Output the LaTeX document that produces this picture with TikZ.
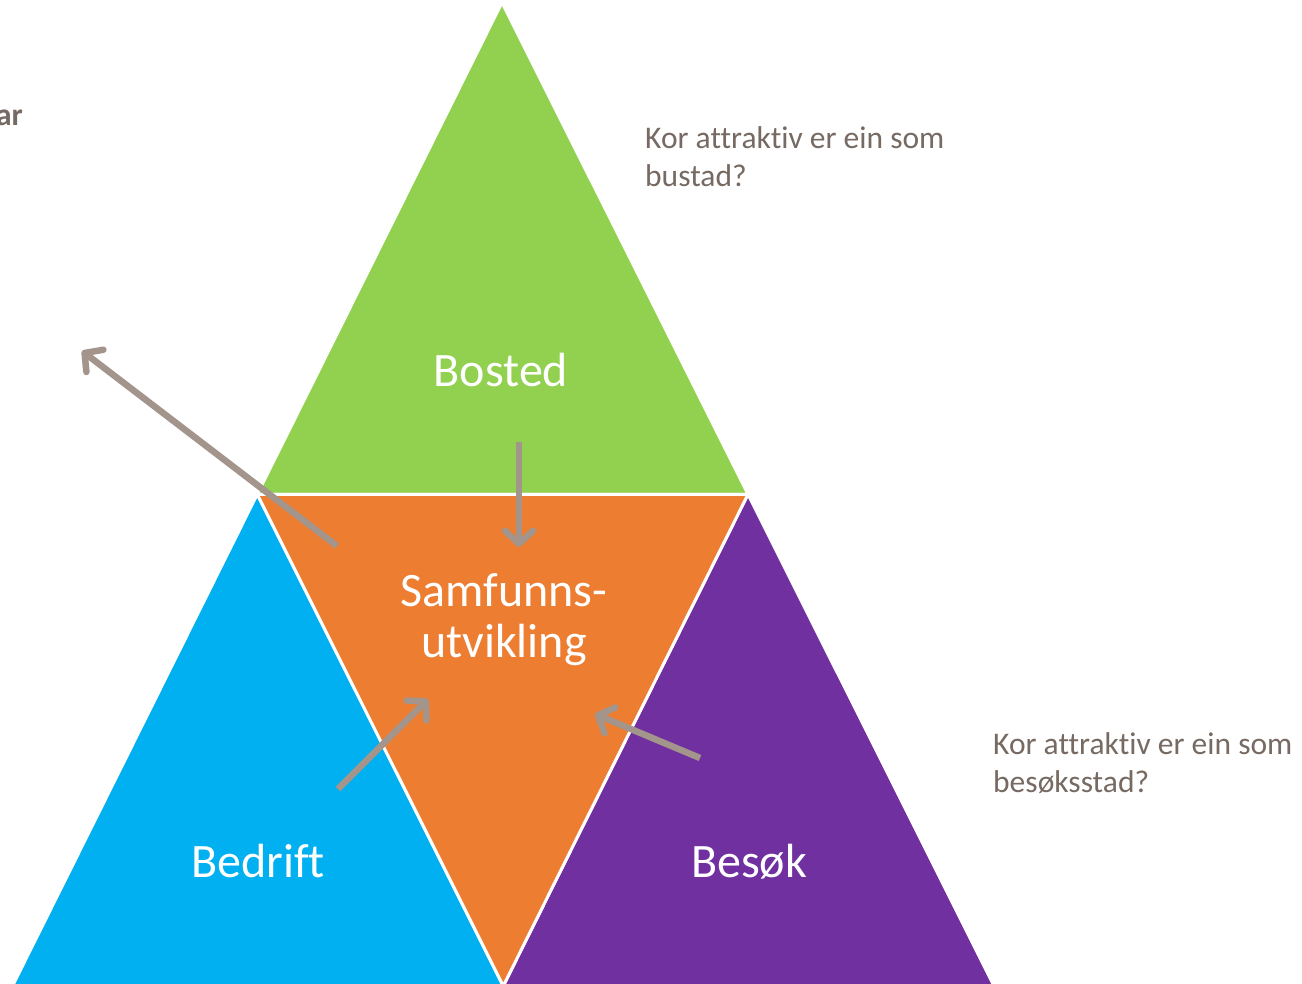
\documentclass[tikz,border=0pt]{standalone}
\usepackage{fontspec}
\setmainfont[Ligatures=NoCommon]{Carlito}
\usetikzlibrary{arrows.meta}
\definecolor{tgreen}{RGB}{146,208,80}
\definecolor{torange}{RGB}{237,125,49}
\definecolor{tblue}{RGB}{0,176,240}
\definecolor{tpurple}{RGB}{112,48,160}
\definecolor{txtgray}{RGB}{118,106,98}
\definecolor{arrgray}{RGB}{163,149,140}
\begin{document}
\begin{tikzpicture}[x=1pt,y=-1pt,
  tri/.style={draw=white,line width=3pt,line join=miter},
  lbl/.style={text=white,font=\fontsize{48}{51}\selectfont,inner sep=0pt,anchor=base,align=center},
  note/.style={text=txtgray,font=\fontsize{31.5}{38}\selectfont,inner sep=0pt,align=left,anchor=base west},
  conn/.style={draw=arrgray,line width=6.5pt,-{Straight Barb[length=13pt,width=28pt,round]}}]
\useasboundingbox (0,0) rectangle (1302,984);
\clip (0,0) rectangle (1302,984);
\fill[white] (0,0) rectangle (1302,984);
% vertices
\coordinate (A) at (502,2.5);
\coordinate (BL) at (12.5,986);
\coordinate (BR) at (994,986);
\coordinate (L) at (257.25,494.25);
\coordinate (R) at (748,494.25);
\coordinate (M) at (503.25,986);
% triangles
\filldraw[tri,fill=tgreen] (A) -- (L) -- (R) -- cycle;
\filldraw[tri,fill=tblue] (L) -- (BL) -- (M) -- cycle;
\filldraw[tri,fill=tpurple] (R) -- (M) -- (BR) -- cycle;
\filldraw[tri,fill=torange] (L) -- (R) -- (M) -- cycle;
% labels
\node[lbl] (bosted) at (501,387) {Bosted};
\node[lbl] (samf) at (504,657) {Samfunns-\\utvikling};
\node[lbl] (bedrift) at (258,877) {Bedrift};
\node[lbl] (besok) at (749,877) {Besøk};
% notes
\node[note] (q1) at (645,187) {Kor attraktiv er ein som\\bustad?};
\node[note] (q2) at (993,792) {Kor attraktiv er ein som\\besøksstad?};
\node[text=txtgray,font=\fontsize{31.5}{38}\selectfont\bfseries,inner sep=0pt,anchor=base east] (q3) at (23,126) {ar};
% arrows
\coordinate (a1s) at (337,546);
\coordinate (a1e) at (82,351);
\coordinate (a2s) at (519,442);
\coordinate (a2e) at (519,547);
\coordinate (a3s) at (338,789);
\coordinate (a3e) at (428,699);
\coordinate (a4s) at (700,758);
\coordinate (a4e) at (595,714);
\draw[conn] (a1s) -- (a1e);
\draw[conn] (a2s) -- (a2e);
\draw[conn] (a3s) -- (a3e);
\draw[conn] (a4s) -- (a4e);
\end{tikzpicture}
\end{document}
